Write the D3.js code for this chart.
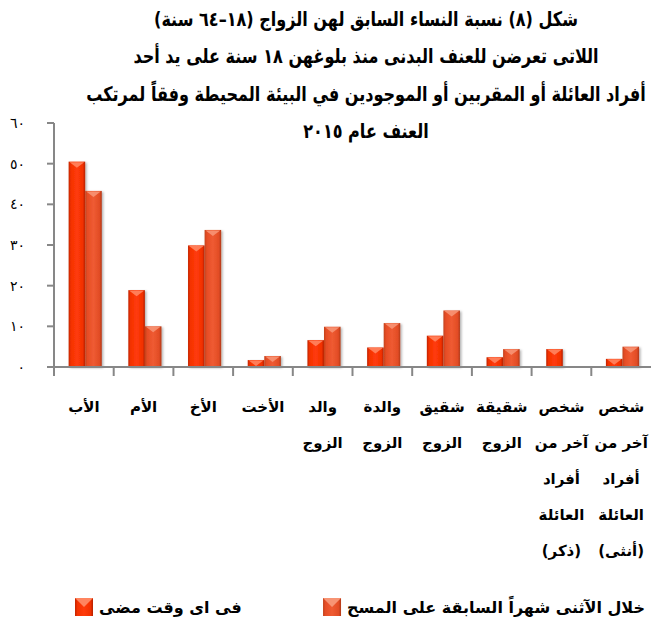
<!DOCTYPE html>
<html lang="ar">
<head>
<meta charset="utf-8">
<script src="https://cdn.jsdelivr.net/npm/d3@7"></script>
<style>
  html, body { margin: 0; padding: 0; background: #fff; }
  svg { display: block; font-family: "DejaVu Sans", sans-serif; }
</style>
</head>
<body>
<svg id="chart" width="651" height="627"></svg>
<script>
// Perpetrators of physical violence since age 18 (ever-married women 18-64), 2015
const categories = [
  "الأب", "الأم", "الأخ", "الأخت", "والد الزوج", "والدة الزوج",
  "شقيق الزوج", "شقيقة الزوج",
  "شخص آخر من أفراد العائلة (ذكر)", "شخص آخر من أفراد العائلة (أنثى)"
];
// how each category label wraps under the axis
const categoryLines = [
  ["الأب"], ["الأم"], ["الأخ"], ["الأخت"],
  ["والد", "الزوج"], ["والدة", "الزوج"], ["شقيق", "الزوج"], ["شقيقة", "الزوج"],
  ["شخص", "آخر من", "أفراد", "العائلة", "(ذكر)"],
  ["شخص", "آخر من", "أفراد", "العائلة", "(أنثى)"]
];
const seriesNames = ["فى اى وقت مضى", "خلال الآثنى شهراً السابقة على المسح"];
const everValues = [50.5, 18.9, 29.9, 1.7, 6.6, 4.8, 7.7, 2.4, 4.4, 2.0];
const past12Values = [43.3, 10.0, 33.7, 2.7, 9.9, 10.8, 13.9, 4.4, 0.2, 5.0];
const yTicks = [0, 10, 20, 30, 40, 50, 60];
const titleLines = [
  "شكل (٨) نسبة النساء السابق لهن الزواج (١٨–٦٤ سنة)",
  "اللاتى تعرضن للعنف البدنى منذ بلوغهن ١٨ سنة على يد أحد",
  "أفراد العائلة أو المقربين أو الموجودين في البيئة المحيطة وفقاً لمرتكب",
  "العنف عام ٢٠١٥"
];

const toArabicDigits = s => String(s).replace(/[0-9]/g, d => "٠١٢٣٤٥٦٧٨٩"[+d]);

const svg = d3.select("#chart");
const plot = { left: 54, right: 651, top: 123, bottom: 367 };
const axisColor = "#878787";

const x0 = d3.scaleBand().domain(categories).range([plot.left, plot.right]).padding(0);
const x1 = d3.scaleBand().domain([0, 1])
  .range([x0.bandwidth() * 0.245, x0.bandwidth() * 0.80]).padding(0);
const y = d3.scaleLinear().domain([0, 60]).range([plot.bottom, plot.top]);

// gradients and shadow
const defs = svg.append("defs");
const palettes = [
  { id: "gEver", stops: ["#c22400", "#f43200", "#ff3b0b", "#f23000", "#b52100"], cap: "#ff8560" },
  { id: "gPast", stops: ["#c2421c", "#e64d26", "#ef5b32", "#e24c25", "#b13917"], cap: "#f79474" }
];
palettes.forEach(p => {
  const g = defs.append("linearGradient").attr("id", p.id)
    .attr("x1", 0).attr("x2", 1).attr("y1", 0).attr("y2", 0);
  [0, 0.14, 0.5, 0.86, 1].forEach((o, i) =>
    g.append("stop").attr("offset", o).attr("stop-color", p.stops[i]));
});
const f = defs.append("filter").attr("id", "shadow")
  .attr("x", "-20%").attr("y", "-10%").attr("width", "150%").attr("height", "130%");
f.append("feDropShadow").attr("dx", 1.5).attr("dy", 1).attr("stdDeviation", 1.2)
  .attr("flood-color", "#000").attr("flood-opacity", 0.3);

// title: full-height glyphs, narrowed horizontally so the longest line fits
const title = svg.append("g").attr("font-weight", "bold").attr("fill", "#000")
  .attr("font-size", 20);
const titleTexts = titleLines.map((t, i) =>
  title.append("text")
    .attr("x", 0).attr("y", 26 + i * 37.5)
    .attr("direction", "rtl").attr("text-anchor", "middle")
    .text(t));
const widest = d3.max(titleTexts, t => t.node().getComputedTextLength());
const sx = Math.min(1, 560 / widest);
title.attr("transform", `translate(366,0) scale(${sx},1)`);

// y axis
const yAxis = svg.append("g");
yAxis.append("line")
  .attr("x1", plot.left).attr("x2", plot.left)
  .attr("y1", y(60)).attr("y2", plot.bottom + 9)
  .attr("stroke", axisColor).attr("stroke-width", 2);
yAxis.selectAll(".yt").data(yTicks).join("line")
  .attr("x1", plot.left - 7).attr("x2", plot.left)
  .attr("y1", d => y(d)).attr("y2", d => y(d))
  .attr("stroke", axisColor).attr("stroke-width", 2);
yAxis.selectAll(".yl").data(yTicks).join("text")
  .attr("x", 25).attr("y", d => y(d) + 5)
  .attr("text-anchor", "end").attr("font-size", 14).attr("fill", "#000")
  .text(d => toArabicDigits(d));

// bars
const series = [everValues, past12Values];
const groups = svg.append("g").selectAll("g").data(categories).join("g")
  .attr("transform", d => `translate(${x0(d)},0)`);
groups.each(function (cat, ci) {
  const g = d3.select(this);
  [0, 1].forEach(si => {
    const v = series[si][ci];
    const bx = x1(si), bw = x1.bandwidth();
    const by = y(v), bh = plot.bottom - y(v);
    const p = palettes[si];
    g.append("rect")
      .attr("x", bx).attr("y", by).attr("width", bw).attr("height", bh)
      .attr("fill", `url(#${p.id})`).attr("filter", "url(#shadow)");
    const capH = Math.min(6, bh);
    if (bh > 1.5) {
      g.append("path")
        .attr("d", `M${bx + 1},${by + 0.5} L${bx + bw - 1},${by + 0.5} L${bx + bw / 2},${by + capH} Z`)
        .attr("fill", p.cap).attr("opacity", 0.9);
    }
  });
});

// x axis
const xAxis = svg.append("g");
xAxis.append("line")
  .attr("x1", plot.left).attr("x2", plot.right)
  .attr("y1", plot.bottom).attr("y2", plot.bottom)
  .attr("stroke", axisColor).attr("stroke-width", 2);
xAxis.selectAll(".xt").data(categories.slice(1)).join("line")
  .attr("x1", d => x0(d)).attr("x2", d => x0(d))
  .attr("y1", plot.bottom).attr("y2", plot.bottom + 9)
  .attr("stroke", axisColor).attr("stroke-width", 2);

// category labels
const labels = svg.append("g").attr("font-weight", "bold").attr("font-size", 15).attr("fill", "#000");
categories.forEach((c, ci) => {
  categoryLines[ci].forEach((line, li) => {
    labels.append("text")
      .attr("x", x0(c) + x0.bandwidth() / 2)
      .attr("y", 412 + li * 36)
      .attr("direction", "rtl").attr("text-anchor", "middle")
      .text(line);
  });
});

// legend: swatch to the left of each entry's text
const legend = svg.append("g").attr("font-weight", "bold").attr("font-size", 16).attr("fill", "#000");
function swatch(xp, yp, p) {
  legend.append("rect").attr("x", xp).attr("y", yp).attr("width", 18).attr("height", 18)
    .attr("fill", `url(#${p.id})`);
  legend.append("path")
    .attr("d", `M${xp},${yp} L${xp + 18},${yp} L${xp + 9},${yp + 9} Z`)
    .attr("fill", p.cap);
}
const t2 = legend.append("text").attr("x", 645).attr("y", 613)
  .attr("text-anchor", "end").text(seriesNames[1]);
const box2 = t2.node().getBBox();
swatch(box2.x - 24, 598, palettes[1]);
swatch(75, 598, palettes[0]);
const t1 = legend.append("text").attr("x", 99).attr("y", 613)
  .attr("text-anchor", "start").text(seriesNames[0]);
const box1 = t1.node().getBBox();
t1.attr("x", 99 + (99 - box1.x));
</script>
</body>
</html>
